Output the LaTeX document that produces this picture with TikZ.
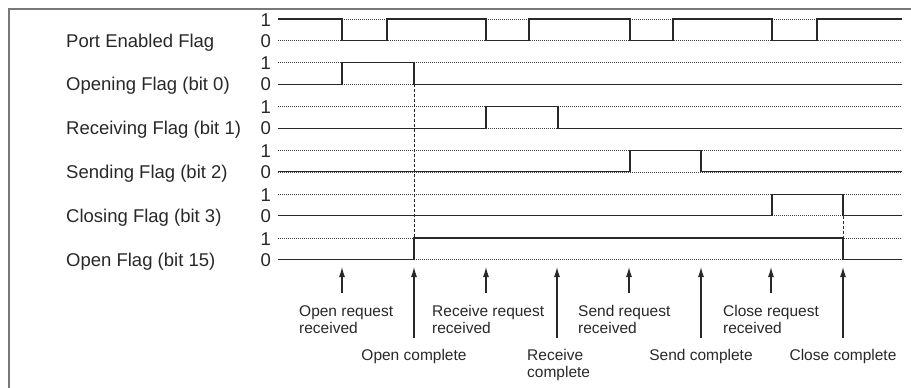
\documentclass[tikz,border=0pt]{standalone}
\usepackage{fontspec}
\setmainfont{Liberation Sans}
\usetikzlibrary{arrows.meta}
\definecolor{framegray}{RGB}{120,120,120}
\definecolor{ink}{RGB}{40,40,40}
\begin{document}
\begin{tikzpicture}[x=1pt,y=-1pt,
  frameline/.style={line width=2pt, draw=framegray},
  refline/.style={draw=black!75, line width=0.7pt, dash pattern=on 0.8pt off 1.2pt},
  sigline/.style={draw=ink, line width=1.1pt, line join=miter},
  vdash/.style={draw=ink, line width=0.8pt, dash pattern=on 3pt off 2pt},
  evarrow/.style={draw=ink, line width=1.1pt, -{Latex[length=10pt,width=6pt]}},
  rowlab/.style={font=\fontsize{18.5}{22}\selectfont, anchor=base west, inner sep=0pt, text=ink},
  lvl/.style={font=\fontsize{18.5}{22}\selectfont, anchor=east, inner sep=0pt, text=ink},
  evlab/.style={font=\fontsize{15.5}{17}\selectfont, inner sep=0pt, align=left, text=ink}]
\useasboundingbox (0,0) rectangle (911,388);
% frame
\draw[frameline] (8.5,388) -- (8.5,8.5) -- (911,8.5);
% rows
\foreach \i/\t in {0/{Port Enabled Flag},1/{Opening Flag (bit 0)},2/{Receiving Flag (bit 1)},3/{Sending Flag (bit 2)},4/{Closing Flag (bit 3)},5/{Open Flag (bit 15)}}{
  \pgfmathsetmacro{\yo}{19+43.8*\i}
  \pgfmathsetmacro{\yz}{\yo+21.5}
  \node[rowlab] (lab\i) at (66,\yz+6.5) {\t};
  \node[lvl] (one\i) at (271,\yo+0.8) {1};
  \node[lvl] (zero\i) at (271,\yz+0.3) {0};
  \draw[refline] (278,\yo) -- (902,\yo);
  \draw[refline] (278,\yz) -- (902,\yz);
}
% signals
\draw[sigline] (278,19) -- (342,19) -- (342,40.5) -- (387,40.5) -- (387,19) -- (486,19) -- (486,40.5) -- (529,40.5) -- (529,19) -- (630,19) -- (630,40.5) -- (673,40.5) -- (673,19) -- (772,19) -- (772,40.5) -- (817,40.5) -- (817,19) -- (902,19);
\draw[sigline] (278,84.3) -- (342,84.3) -- (342,62.8) -- (414,62.8) -- (414,84.3) -- (902,84.3);
\draw[sigline] (278,128.1) -- (486,128.1) -- (486,106.6) -- (558,106.6) -- (558,128.1) -- (902,128.1);
\draw[sigline] (278,171.9) -- (630,171.9) -- (630,150.4) -- (701,150.4) -- (701,171.9) -- (902,171.9);
\draw[sigline] (278,215.7) -- (772,215.7) -- (772,194.2) -- (843,194.2) -- (843,215.7) -- (902,215.7);
\draw[sigline] (278,259.5) -- (414,259.5) -- (414,238) -- (843,238) -- (843,259.5) -- (902,259.5);
% dashed guides
\draw[vdash] (414,84.3) -- (414,238);
\draw[vdash] (843,215.7) -- (843,238);
% event arrows
\foreach \n/\x/\yt in {oreq/342/293,ocmp/414/338,rreq/486/293,rcmp/557/338,sreq/629/293,scmp/701/338,creq/771/293,ccmp/843/338}{
  \coordinate (\n tail) at (\x,\yt);
  \coordinate (\n tip) at (\x,267);
  \draw[evarrow] (\n tail) -- (\n tip);
}
% event labels
\node[evlab, anchor=north west] (loreq) at (299,305) {Open request\\received};
\node[evlab, anchor=north west] (lrreq) at (432,305) {Receive request\\received};
\node[evlab, anchor=north west] (lsreq) at (578,305) {Send request\\received};
\node[evlab, anchor=north west] (lcreq) at (723,305) {Close request\\received};
\node[evlab, anchor=north] (locmp) at (414,349) {Open complete};
\node[evlab, anchor=north west] (lrcmp) at (527,349) {Receive\\complete};
\node[evlab, anchor=north] (lscmp) at (701,349) {Send complete};
\node[evlab, anchor=north] (lccmp) at (843,349) {Close complete};
\end{tikzpicture}
\end{document}
